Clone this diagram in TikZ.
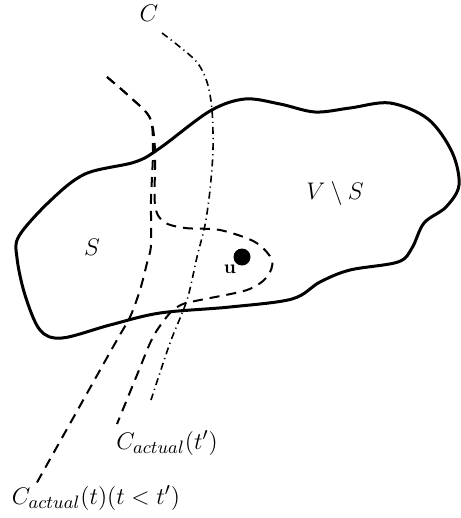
\documentclass[tikz,border=0pt]{standalone}
\begin{document}
\begin{tikzpicture}[x=0.5pt,y=-0.5pt,
  outline/.style={line width=1.5pt,line join=round},
  dashpath/.style={line width=1pt,dash pattern=on 5pt off 3.5pt},
  dashdotpath/.style={line width=0.8pt,dash pattern=on 3.5pt off 2pt on 0.6pt off 2pt},
  lbl/.style={inner sep=0pt,font=\fontsize{13}{15}\selectfont}]
\useasboundingbox (0,0) rectangle (460,518);
% region boundary
\draw[outline] plot[smooth cycle,tension=0.55] coordinates {
 (19,236) (50,201) (85,174) (135,162) (160,148) (210,111) (245,99)
 (280,104) (315,112) (350,108) (390,103) (428,119) (452,152) (459,185)
 (446,207) (424,223) (412,248) (398,262) (350,270) (320,282) (292,299)
 (230,307) (160,313) (110,325) (62,338) (40,330) (25,295) (17,258)};
% C_actual(t)
\draw[dashpath] plot[smooth,tension=0.5] coordinates {
 (107,77) (130,97) (150,118) (153,150) (151,200) (151,245) (147,263)
 (140,290) (130,317) (113,347) (35,486)};
% C_actual(t')
\draw[dashpath] plot[smooth,tension=0.5] coordinates {
 (107,77) (130,97) (150,118) (155,150) (155,205) (164,222) (185,228)
 (220,230) (255,242) (272,260) (267,277) (247,290) (200,300) (183,304)
 (170,313) (153,337) (137,375) (117,424)};
% C
\draw[dashdotpath] plot[smooth,tension=0.5] coordinates {
 (162,33) (195,60) (207,82) (212,110) (213,150) (210,190) (205,225)
 (197,257) (187,300) (170,343) (151,400)};
% vertex u
\fill (242,257) circle[radius=8.5];
\node[inner sep=0pt,font=\fontsize{9.5}{11}\selectfont\bfseries] (u) at (230,269) {u};
% labels
\node[lbl] (c) at (149,13) {$C$};
\node[lbl] (s) at (92,247) {$S$};
\node[lbl] (vs) at (335,193) {$V\setminus S$};
\node[lbl] (ct1) at (167,443) {$C_{actual}(t')$};
\node[lbl] (ct) at (96,498) {$C_{actual}(t)(t<t')$};
\end{tikzpicture}
\end{document}
